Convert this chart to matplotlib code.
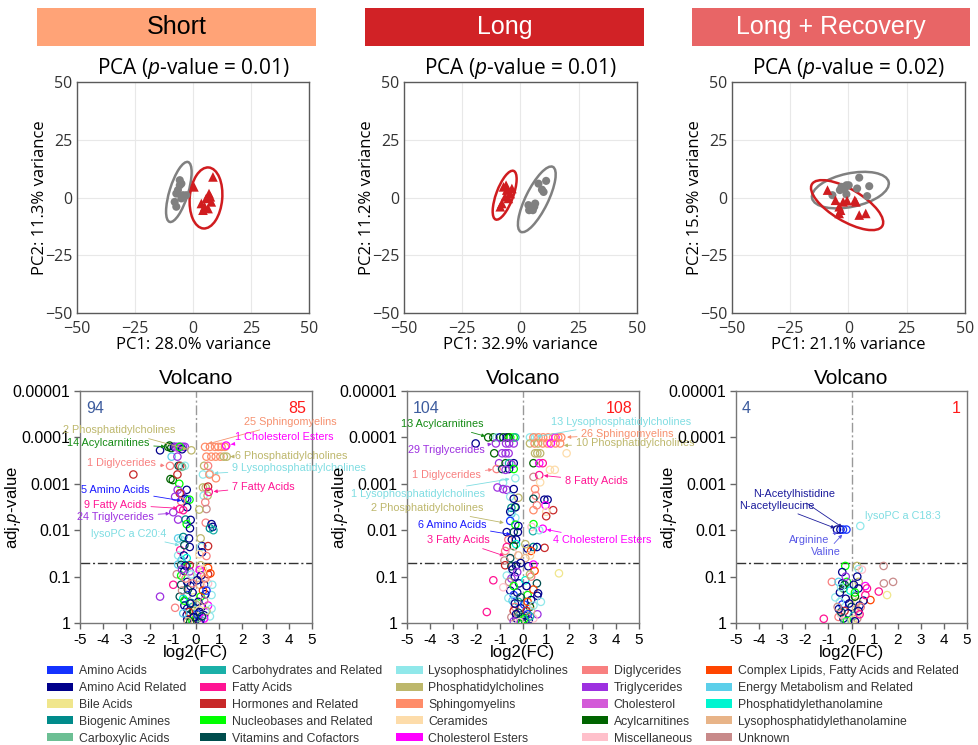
import matplotlib
matplotlib.use("Agg")
import matplotlib.pyplot as plt
from matplotlib.patches import Ellipse, Rectangle, Patch
from matplotlib.ticker import NullLocator
from matplotlib import font_manager

# ---------------------------------------------------------------- data
CONDITIONS = ["Short", "Long", "Long + Recovery"]
PCA_PVALUES = ["0.01", "0.01", "0.02"]
PC1_VAR = ["28.0", "32.9", "21.1"]
PC2_VAR = ["11.3", "11.2", "15.9"]

# PCA scores: control (grey circles) and exposed (red triangles)
SHORT_CTRL_PC1 = [-5.7, -5.0, -6.5, -7.2, -4.3, -2.9, -7.9, -7.2, -5.0, -5.7]
SHORT_CTRL_PC2 = [7.5, 6.0, 3.2, 1.7, 1.0, 1.0, -1.9, -4.0, -0.4, 5.3]
SHORT_EXP_PC1 = [0.4, 8.6, 6.9, 7.5, 5.7, 3.6, 5.0, 6.5, 7.9, 4.3]
SHORT_EXP_PC2 = [4.6, 8.9, 1.7, 0.3, -0.4, -2.6, -4.0, -4.8, -1.9, -5.5]

LONG_CTRL_PC1 = [11.0, 7.7, 9.9, 9.2, 3.4, 4.2, 5.9, 5.3, 6.3, 3.7]
LONG_CTRL_PC2 = [7.2, 6.0, 2.4, 3.4, -3.3, -4.0, -4.0, -5.5, -2.6, -5.5]
LONG_EXP_PC1 = [-7.3, -5.9, -4.4, -3.7, -6.6, -8.0, -8.7, -5.2, -6.2]
LONG_EXP_PC2 = [4.6, 3.2, 1.7, 3.9, 0.3, -2.6, -4.0, -0.4, 5.3]

REC_CTRL_PC1 = [4.6, -3.0, -0.9, 0.1, 3.7, 8.9, 8.0, -6.9, -1.6, -0.9, -3.7]
REC_CTRL_PC2 = [8.6, 4.6, 5.3, 5.3, 3.9, 4.9, 0.6, 1.0, 3.9, 1.4, 3.2]
REC_EXP_PC1 = [-9.0, -5.6, -2.3, -0.6, 2.7, 3.2, -3.4, -4.0, 4.6, 7.4, -4.0]
REC_EXP_PC2 = [3.2, -1.2, -1.9, -1.4, -1.2, -1.9, -5.5, -6.9, -7.6, -6.9, -4.0]

# 95% group ellipses: (centre PC1, centre PC2, width, height, angle)
SHORT_ELLIPSES = [(-6.1, 2.4, 27.1, 8.0, 73), (5.6, -0.2, 26.5, 14.0, 85)]
LONG_ELLIPSES = [(7.0, -0.8, 31.3, 9.6, 64), (-6.8, 1.0, 22.4, 7.3, 70)]
REC_ELLIPSES = [(0.8, 3.2, 33.6, 14.5, 12), (-0.6, -3.3, 35.2, 13.8, -31)]

CLASS_KEYS = ["AA", "AAR", "BA", "BAm", "CA", "CH", "FA", "HR", "NB", "VC",
              "LPC", "PC", "SM", "CER", "CE", "DG", "TG", "CHOL", "AC", "MISC",
              "CL", "EM", "PE", "LPE", "UNK"]
CLASS_NAMES = ["Amino Acids", "Amino Acid Related", "Bile Acids", "Biogenic Amines",
               "Carboxylic Acids", "Carbohydrates and Related", "Fatty Acids",
               "Hormones and Related", "Nucleobases and Related", "Vitamins and Cofactors",
               "Lysophosphatidylcholines", "Phosphatidylcholines", "Sphingomyelins",
               "Ceramides", "Cholesterol Esters", "Diglycerides", "Triglycerides",
               "Cholesterol", "Acylcarnitines", "Miscellaneous",
               "Complex Lipids, Fatty Acids and Related", "Energy Metabolism and Related",
               "Phosphatidylethanolamine", "Lysophosphatidylethanolamine", "Unknown"]

# volcano points: (class, log2 fold change, adjusted p-value)
SHORT_VOLCANO = [
    ("AAR", -1.55, 1.9e-4), ("AC", -1.20, 1.6e-4), ("AC", -1.07, 1.7e-4), ("AC", -1.14, 1.5e-4),
    ("AAR", -0.95, 1.6e-4), ("TG", -0.88, 1.6e-4), ("TG", -0.80, 1.6e-4), ("TG", -0.72, 1.6e-4),
    ("TG", -0.64, 1.6e-4), ("TG", -0.56, 1.6e-4), ("TG", -0.48, 1.6e-4), ("CHOL", -0.76, 1.7e-4),
    ("AAR", -0.60, 1.8e-4), ("NB", -0.70, 1.6e-4), ("PC", -0.20, 1.9e-4),
    ("EM", -1.05, 2.6e-4), ("TG", -0.80, 2.6e-4),
    ("DG", -1.12, 4.1e-4), ("VC", -0.75, 4.1e-4), ("HR", -0.68, 4.1e-4), ("LPC", -0.48, 4.1e-4),
    ("CA", -0.60, 4.3e-4), ("HR", -2.70, 6.3e-4), ("AC", -1.10, 7.9e-4), ("AC", -1.00, 8.3e-4),
    ("HR", -0.80, 6.3e-4), ("NB", -0.72, 1.0e-3), ("AAR", -0.40, 1.35e-3), ("TG", -0.79, 1.35e-3),
    ("TG", -0.64, 1.6e-3), ("HR", -0.70, 1.6e-3), ("AAR", -0.46, 2.1e-3), ("AA", -0.38, 2.2e-3),
    ("NB", -0.28, 2.2e-3), ("DG", -0.64, 2.4e-3), ("TG", -0.90, 1.9e-3), ("AAR", -0.38, 3.2e-3),
    ("FA", -0.70, 3.5e-3), ("TG", -0.98, 4.1e-3), ("FA", -0.55, 3.7e-3), ("TG", -0.77, 5.9e-3),
    ("BAm", -0.45, 5.9e-3), ("AAR", -0.23, 6.0e-3), ("NB", -0.40, 7.4e-3), ("AAR", -0.26, 9.1e-3),
    ("EM", -0.77, 0.015), ("LPC", -0.65, 0.016), ("BAm", -0.55, 0.014), ("AAR", -0.30, 0.015),
    ("FA", -0.68, 0.027), ("AAR", -0.27, 0.023), ("VC", -0.50, 0.021), ("LPC", -0.77, 0.035),
    ("AAR", -0.52, 0.035), ("EM", -0.62, 0.044), ("PE", -0.40, 0.040),
    ("SM", 0.39, 1.6e-4), ("SM", 0.60, 1.6e-4), ("SM", 0.82, 1.6e-4), ("SM", 0.96, 1.6e-4),
    ("SM", 1.10, 1.6e-4), ("SM", 1.25, 1.6e-4), ("CE", 1.30, 1.5e-4),
    ("SM", 0.45, 2.6e-4), ("SM", 0.66, 2.6e-4), ("SM", 0.85, 2.6e-4), ("SM", 1.05, 2.6e-4),
    ("PC", 1.20, 2.6e-4), ("PC", 1.32, 2.6e-4), ("PC", 0.35, 4.1e-4), ("LPC", 0.30, 6.3e-4),
    ("LPC", 0.60, 6.0e-4), ("DG", 0.52, 4.1e-4), ("SM", 0.58, 6.3e-4), ("SM", 0.86, 7.6e-4),
    ("PC", 0.30, 1.2e-3), ("PC", 0.42, 1.2e-3), ("HR", 0.52, 1.15e-3), ("LPC", 0.33, 1.8e-3),
    ("PC", 0.50, 1.8e-3), ("FA", 0.55, 1.5e-3), ("DG", 0.40, 2.5e-3), ("UNK", 0.45, 3.5e-3),
    ("PC", 0.14, 3.6e-3), ("DG", 0.42, 6.9e-3), ("AAR", 0.67, 7.4e-3), ("AAR", 0.72, 8.5e-3),
    ("BAm", 0.60, 9.1e-3), ("CH", 0.75, 0.010), ("PC", 0.20, 0.015), ("AAR", 0.26, 0.022),
    ("LPC", 0.22, 0.023), ("HR", 0.52, 0.022), ("AAR", 0.26, 0.030), ("CER", 0.14, 0.033),
    ("DG", 0.45, 0.036),
    ("EM", -0.77, 0.055), ("VC", -0.64, 0.056), ("NB", -0.40, 0.060), ("HR", -0.27, 0.057),
    ("PC", 0.20, 0.057), ("CL", 0.52, 0.065), ("UNK", -0.83, 0.089), ("NB", -0.64, 0.095),
    ("AAR", -0.50, 0.076), ("TG", -0.27, 0.077), ("LPE", 0.05, 0.09), ("CE", 0.16, 0.072),
    ("AAR", 0.22, 0.095), ("HR", 0.52, 0.089), ("CL", 0.62, 0.085), ("FA", -0.98, 0.15),
    ("VC", -0.64, 0.15), ("AAR", -0.38, 0.13), ("AAR", -0.24, 0.16), ("LPE", 0.16, 0.15),
    ("AAR", 0.36, 0.15), ("MISC", 0.52, 0.14), ("LPC", 0.70, 0.15), ("TG", -1.55, 0.27),
    ("VC", -0.70, 0.27), ("AA", -0.38, 0.25), ("BA", -0.10, 0.28), ("NB", 0.20, 0.27),
    ("LPC", 0.67, 0.25), ("AAR", 0.40, 0.24), ("PE", -0.55, 0.30), ("DG", -0.90, 0.47),
    ("AAR", -0.50, 0.42), ("AAR", -0.38, 0.49), ("CH", -0.15, 0.45), ("AAR", 0.25, 0.45),
    ("CE", 0.52, 0.42), ("LPC", 0.67, 0.49), ("AAR", -0.40, 0.68), ("VC", -0.25, 0.65),
    ("EM", 0.14, 0.68), ("AAR", 0.35, 0.68), ("LPC", 0.60, 0.72), ("BA", -0.05, 0.60),
    ("AAR", -0.38, 0.85), ("NB", -0.15, 0.90), ("HR", 0.05, 0.82), ("AA", 0.20, 0.88),
    ("MISC", 0.30, 0.95), ("VC", -0.05, 0.95), ("CA", 0.10, 0.78), ("UNK", -0.60, 0.20),
    ("AAR", 0.10, 0.35), ("BAm", -0.20, 0.37), ("CL", 0.30, 0.20), ("AC", -0.10, 0.55),
    ("PC", 0.00, 0.40), ("CER", 0.15, 0.52), ("DG", -0.45, 0.11), ("SM", 0.40, 0.11),
    ("AAR", -0.15, 0.22), ("AA", 0.05, 0.65), ("UNK", 0.35, 0.33),
    ("AAR", -0.45, 0.058), ("TG", -0.60, 0.070), ("LPC", -0.20, 0.090), ("CER", 0.30, 0.070),
    ("AAR", 0.05, 0.12), ("VC", -0.35, 0.19), ("DG", -0.15, 0.14), ("AA", 0.45, 0.20),
    ("NB", -0.50, 0.33), ("AAR", -0.25, 0.38), ("PC", 0.45, 0.55), ("HR", -0.30, 0.58),
    ("AAR", 0.15, 0.58), ("EM", -0.55, 0.62), ("AAR", -0.10, 0.75), ("CE", 0.35, 0.80),
    ("AC", -0.25, 0.95), ("AAR", 0.15, 0.97), ("LPE", -0.35, 0.92), ("VC", 0.25, 0.72),
]

LONG_VOLCANO = [
    ("AAR", -2.04, 1.35e-4), ("AC", -1.50, 1.0e-4), ("AC", -1.28, 1.0e-4), ("LPC", -1.14, 1.0e-4),
    ("AAR", -1.00, 1.0e-4), ("AC", -0.85, 1.0e-4), ("AAR", -0.70, 1.0e-4), ("NB", -0.55, 1.0e-4),
    ("NB", -0.40, 1.0e-4), ("CH", -0.33, 1.0e-4), ("AC", -0.62, 1.0e-4), ("TG", -1.17, 1.35e-4),
    ("TG", -0.73, 1.35e-4), ("TG", -0.60, 1.35e-4), ("TG", -0.40, 1.35e-4), ("AC", -1.24, 2.2e-4),
    ("TG", -0.90, 2.2e-4), ("TG", -0.75, 2.2e-4), ("TG", -0.62, 2.2e-4), ("TG", -1.03, 3.6e-4),
    ("AC", -0.75, 3.6e-4), ("CH", -0.60, 3.6e-4), ("AAR", -0.40, 3.6e-4), ("TG", -0.50, 3.8e-4),
    ("DG", -1.14, 4.8e-4), ("VC", -0.90, 4.8e-4), ("AAR", -0.60, 4.8e-4), ("NB", -0.40, 4.8e-4),
    ("TG", -0.75, 5.0e-4), ("LPC", -0.33, 7.6e-4), ("LPC", -0.86, 9.5e-4), ("TG", -1.10, 1.2e-3),
    ("TG", -0.86, 1.3e-3), ("TG", -0.70, 1.35e-3), ("AAR", -0.40, 1.3e-3), ("LPC", -0.55, 1.9e-3),
    ("PC", -0.20, 2.0e-3), ("AAR", -0.40, 2.1e-3), ("NB", -0.35, 3.2e-3), ("BAm", -0.50, 3.3e-3),
    ("AAR", -0.32, 3.2e-3), ("EM", -0.50, 4.4e-3), ("AAR", -0.55, 4.0e-3), ("LPC", -0.33, 5.4e-3),
    ("AA", -0.55, 6.3e-3), ("NB", -0.33, 7.6e-3), ("AAR", -0.20, 8.1e-3), ("AAR", -0.70, 0.011),
    ("VC", -0.40, 0.011), ("AAR", -0.22, 0.011), ("DG", -0.63, 0.016), ("AAR", -0.48, 0.016),
    ("AAR", -0.30, 0.016), ("PE", -0.30, 0.020), ("FA", -0.70, 0.023), ("AC", -0.40, 0.022),
    ("DG", -0.77, 0.028), ("MISC", -0.45, 0.030), ("VC", -0.55, 0.040), ("LPE", -0.20, 0.035),
    ("UNK", -0.80, 0.045),
    ("LPC", 0.30, 1.0e-4), ("LPC", 0.52, 1.0e-4), ("SM", 0.67, 1.0e-4), ("SM", 0.87, 1.0e-4),
    ("SM", 1.08, 1.0e-4), ("SM", 1.30, 1.0e-4), ("SM", 1.52, 1.0e-4), ("CE", 1.40, 1.0e-4),
    ("SM", 0.45, 1.0e-4), ("SM", 1.65, 1.0e-4), ("PC", 0.30, 1.35e-4), ("SM", 0.50, 1.35e-4),
    ("PC", 0.65, 1.35e-4), ("SM", 0.85, 1.35e-4), ("SM", 1.05, 1.35e-4), ("CE", 1.20, 1.35e-4),
    ("SM", 1.40, 1.35e-4), ("SM", 1.60, 1.35e-4), ("CER", 1.88, 2.2e-4), ("PC", 0.52, 2.2e-4),
    ("PC", 0.74, 2.2e-4), ("PC", 0.62, 2.2e-4), ("AC", 0.45, 3.6e-4), ("CE", 0.70, 3.6e-4),
    ("FA", 0.85, 3.6e-4), ("CER", 1.16, 5.0e-4), ("CER", 1.37, 5.0e-4), ("UNK", 0.45, 7.1e-4),
    ("FA", 0.70, 6.5e-4), ("CER", 0.74, 9.3e-4), ("SM", 0.52, 1.3e-3), ("DG", 0.55, 1.8e-3),
    ("VC", 0.45, 2.1e-3), ("AAR", 0.92, 2.2e-3), ("AAR", 1.06, 2.2e-3), ("CE", 0.97, 2.9e-3),
    ("DG", 0.60, 2.9e-3), ("HR", 1.30, 3.7e-3), ("CER", 1.00, 4.0e-3), ("SM", 0.45, 3.7e-3),
    ("CE", 0.85, 9.3e-3), ("NB", 0.45, 7.4e-3), ("MISC", 0.37, 8.5e-3), ("CH", 0.43, 0.0105),
    ("LPC", 0.70, 0.010), ("HR", 1.00, 0.005), ("HR", 0.93, 0.024), ("BAm", 0.45, 0.023),
    ("AAR", 0.60, 0.023), ("AAR", 0.20, 0.025), ("PC", 0.10, 0.020), ("CL", 0.35, 0.028),
    ("CER", 0.30, 0.035), ("LPE", 0.10, 0.040),
    ("BA", 1.55, 0.085), ("FA", -1.28, 0.12), ("FA", -1.56, 0.58), ("HR", -0.77, 0.057),
    ("VC", -0.50, 0.060), ("AAR", -0.30, 0.058), ("AAR", -0.10, 0.051), ("AAR", 0.23, 0.060),
    ("CE", 0.45, 0.055), ("CL", 0.50, 0.075), ("LPC", -0.70, 0.095), ("TG", -0.50, 0.11),
    ("AAR", -0.35, 0.10), ("AAR", -0.17, 0.14), ("UNK", -0.60, 0.13), ("VC", 0.60, 0.14),
    ("PE", 0.10, 0.12), ("AAR", -0.55, 0.20), ("AA", -0.40, 0.25), ("AAR", -0.25, 0.22),
    ("NB", 0.20, 0.25), ("CL", 0.45, 0.19), ("AAR", 0.65, 0.23), ("MISC", -0.85, 0.17),
    ("LPC", -0.63, 0.29), ("EM", -0.45, 0.33), ("CH", -0.20, 0.35), ("AAR", 0.35, 0.32),
    ("AAR", 0.62, 0.26), ("LPC", 0.77, 0.35), ("DG", -0.35, 0.45), ("AAR", -0.10, 0.48),
    ("AC", 0.30, 0.45), ("TG", 0.62, 0.65), ("HR", -0.40, 0.55), ("VC", -0.20, 0.60),
    ("AAR", 0.10, 0.70), ("LPE", 0.35, 0.55), ("AAR", -0.28, 0.80), ("NB", -0.05, 0.90),
    ("BA", 0.15, 0.75), ("AAR", 0.25, 0.85), ("CA", -0.15, 0.70), ("MISC", 0.45, 0.80),
    ("UNK", -0.50, 0.75), ("AA", 0.05, 0.40), ("DG", 0.35, 0.10),
    ("AAR", -0.45, 0.070), ("TG", -0.25, 0.080), ("PC", 0.30, 0.090), ("AAR", 0.15, 0.16),
    ("NB", -0.40, 0.16), ("VC", -0.10, 0.28), ("CL", 0.20, 0.35), ("AAR", -0.35, 0.38),
    ("LPC", 0.45, 0.42), ("HR", 0.15, 0.55), ("AAR", -0.30, 0.65), ("AA", 0.20, 0.65),
    ("VC", -0.05, 0.75), ("AAR", 0.10, 0.95), ("NB", 0.05, 0.82), ("TG", -0.40, 0.92),
    ("CH", 0.30, 0.72), ("MISC", -0.15, 0.95),
]

REC_VOLCANO = [
    ("AAR", -0.63, 0.0097), ("AAR", -0.48, 0.0097), ("AA", -0.37, 0.0097), ("AA", -0.22, 0.0097),
    ("LPC", 0.38, 0.0081),
    ("NB", -0.27, 0.059), ("PC", 0.24, 0.059), ("LPC", 0.31, 0.069), ("MISC", 0.45, 0.071),
    ("UNK", 1.39, 0.059), ("DG", -0.85, 0.13), ("EM", -0.56, 0.13), ("NB", -0.20, 0.13),
    ("UNK", 1.40, 0.14), ("UNK", 1.80, 0.13), ("PC", 0.31, 0.13), ("AAR", -0.40, 0.14),
    ("VC", -0.30, 0.15), ("CE", 0.60, 0.16), ("LPC", -0.70, 0.28), ("FA", 0.67, 0.18),
    ("FA", 1.18, 0.21), ("BA", 1.54, 0.25), ("CL", 0.82, 0.32), ("AAR", 0.52, 0.33),
    ("FA", 0.60, 0.25), ("AAR", 0.30, 0.18), ("AC", -0.35, 0.18), ("AAR", -0.50, 0.22),
    ("FA", -1.20, 0.81), ("DG", -0.56, 0.74), ("PC", 0.25, 0.35), ("CER", 0.05, 0.30),
    ("AAR", -0.25, 0.30), ("AA", -0.40, 0.40), ("VC", 0.00, 0.45), ("LPE", 0.20, 0.50),
    ("HR", -0.30, 0.55), ("AAR", -0.15, 0.62), ("CH", 0.10, 0.70), ("AAR", -0.35, 0.80),
    ("UNK", 0.25, 0.80), ("NB", -0.20, 0.90), ("BA", 0.05, 0.85), ("MISC", -0.45, 0.65),
    ("AAR", 0.35, 0.42), ("LPC", -0.50, 0.35), ("AC", 0.15, 0.27), ("PE", -0.05, 0.20),
    ("AAR", 0.10, 0.15), ("CER", 0.30, 0.60), ("AAR", -0.55, 0.50),
    ("AAR", -0.40, 0.080), ("TG", -0.25, 0.10), ("AAR", 0.25, 0.10), ("LPC", -0.45, 0.17),
    ("NB", 0.15, 0.22), ("AAR", -0.10, 0.38), ("DG", 0.40, 0.45), ("AAR", 0.30, 0.55),
    ("VC", -0.45, 0.58), ("UNK", -0.60, 0.45), ("AAR", 0.15, 0.92), ("CA", -0.30, 0.97),
    ("FA", 0.35, 0.65),
]

# significant metabolites (down, up)
SIG_COUNTS = [(94, 85), (104, 108), (4, 1)]
P_CUTOFF = 0.05

# labelled groups: (label, class, target log2FC, target adj. p)
SHORT_NOTES = [
    ("25 Sphingomyelins", "SM", 0.35, 1.45e-4),
    ("1 Cholesterol Esters", "CE", 1.33, 1.45e-4),
    ("6 Phosphatidylcholines", "PC", 1.30, 2.6e-4),
    ("9 Lysophosphatidylcholines", "LPC", 0.60, 6.0e-4),
    ("7 Fatty Acids", "FA", 0.58, 1.5e-3),
    ("2 Phosphatidylcholines", "PC", -0.20, 1.9e-4),
    ("14 Acylcarnitines", "AC", -1.15, 1.6e-4),
    ("1 Diglycerides", "DG", -1.17, 4.1e-4),
    ("5 Amino Acids", "AA", -0.45, 2.4e-3),
    ("9 Fatty Acids", "FA", -0.62, 3.4e-3),
    ("24 Triglycerides", "TG", -0.95, 4.3e-3),
    ("lysoPC a C20:4", "LPC", -0.55, 0.022),
]
LONG_NOTES = [
    ("13 Acylcarnitines", "AC", -1.45, 1.0e-4),
    ("29 Triglycerides", "TG", -1.17, 1.35e-4),
    ("1 Diglycerides", "DG", -1.14, 4.8e-4),
    ("1 Lysophosphatidylcholines", "LPC", -0.40, 7.6e-4),
    ("2 Phosphatidylcholines", "PC", -0.65, 7.2e-3),
    ("6 Amino Acids", "AA", -0.36, 0.0128),
    ("3 Fatty Acids", "FA", -0.65, 0.038),
    ("13 Lysophosphatidylcholines", "LPC", 0.43, 1.0e-4),
    ("26 Sphingomyelins", "SM", 1.72, 1.0e-4),
    ("10 Phosphatidylcholines", "PC", 1.58, 1.5e-4),
    ("8 Fatty Acids", "FA", 0.72, 6.5e-4),
    ("4 Cholesterol Esters", "CE", 0.85, 9.3e-3),
]
REC_NOTES = [
    ("N-Acetylhistidine", "AAR", -0.25, 0.0097),
    ("N-acetylleucine", "AAR", -0.55, 0.0097),
    ("Arginine", "AA", -0.42, 0.0105),
    ("Valine", "AA", -0.28, 0.0107),
    ("lysoPC a C18:3", "LPC", None, None),
]

# ---------------------------------------------------------------- style
W, H, DPI = 979, 745, 100
PALETTE = {
    "AA": "#1432ff", "AAR": "#00008b", "BA": "#f0e68c", "BAm": "#008b8b", "CA": "#6cbf94",
    "CH": "#1ab0a8", "FA": "#ff1493", "HR": "#c82828", "NB": "#00ff00", "VC": "#004d4d",
    "LPC": "#90e8ea", "PC": "#bdb76b", "SM": "#ff8c69", "CER": "#fddcaa", "CE": "#ff00ff",
    "DG": "#f88080", "TG": "#9d30e0", "CHOL": "#d35ad8", "AC": "#006400", "MISC": "#ffc0cb",
    "CL": "#ff4500", "EM": "#5ccfea", "PE": "#00f5d0", "LPE": "#e8b488", "UNK": "#c88a8a",
}
NOTE_TEXT_COLOR = {"AC": "#138a13", "LPC": "#7fdde2", "SM": "#f7906e", "AA": "#1a1aff"}
HEADER_COLORS = ["#ffa377", "#d12226", "#e86566"]
HEADER_TEXT = ["black", "white", "white"]
GREY, RED = "#808080", "#d01c1f"

# text anchor positions for the labels: (log2FC, adj. p, alignment)
SHORT_NOTE_POS = [
    (2.05, 4.6e-5, "left"), (1.69, 1.0e-4, "left"), (1.69, 2.5e-4, "left"),
    (1.55, 4.6e-4, "left"), (1.55, 1.15e-3, "left"), (-0.9, 7.1e-5, "right"),
    (-2.0, 1.35e-4, "right"), (-1.72, 3.5e-4, "right"), (-2.0, 1.35e-3, "right"),
    (-2.12, 2.8e-3, "right"), (-1.81, 5.2e-3, "right"), (-1.26, 0.012, "right"),
]
LONG_NOTE_POS = [
    (-1.7, 5.2e-5, "right"), (-1.65, 1.9e-4, "right"), (-1.8, 6.5e-4, "right"),
    (-1.65, 1.66e-3, "right"), (-1.7, 3.4e-3, "right"), (-1.58, 7.6e-3, "right"),
    (-1.44, 0.0166, "right"), (1.22, 4.6e-5, "left"), (2.51, 8.5e-5, "left"),
    (2.27, 1.35e-4, "left"), (1.8, 8.7e-4, "left"), (1.29, 0.0166, "left"),
]
REC_NOTE_POS = [
    (-2.5, 1.7e-3, "center"), (-3.25, 2.95e-3, "center"), (-1.85, 0.0166, "center"),
    (-1.1, 0.030, "center"), (0.57, 5.0e-3, "left"),
]
REC_NOTE_COLORS = ["#1c1c9c", "#1c1c9c", "#5a5ae6", "#5a5ae6", "#7fdde2"]

names = {f.name for f in font_manager.fontManager.ttflist}
NARROW = "Liberation Sans Narrow" if "Liberation Sans Narrow" in names else "Liberation Sans"
HEADER_SIZE = 21 if NARROW == "Liberation Sans Narrow" else 18
PCA_FONT = ["Open Sans", "DejaVu Sans"]

plt.rcParams["font.family"] = ["Liberation Sans", "DejaVu Sans"]
plt.rcParams["mathtext.fontset"] = "custom"
plt.rcParams["mathtext.it"] = "Open Sans:italic"
plt.rcParams["mathtext.rm"] = "Open Sans"

fig = plt.figure(figsize=(W / DPI, H / DPI), dpi=DPI)


def px_rect(left, top, right, bottom):
    return [left / W, 1 - bottom / H, (right - left) / W, (bottom - top) / H]


# condition headers
for (l, r), name, fc, tc in zip([(37, 316), (365, 644), (692, 970)], CONDITIONS,
                                HEADER_COLORS, HEADER_TEXT):
    fig.add_artist(Rectangle((l / W, 1 - 46 / H), (r - l) / W, 38 / H,
                             transform=fig.transFigure, facecolor=fc, edgecolor="none"))
    fig.text((l + r) / 2 / W, 1 - 27 / H, name, ha="center", va="center",
             fontsize=HEADER_SIZE, color=tc, family=NARROW)


def pca_panel(ax, cx, cy, ex, ey, ellipses, pval, v1, v2):
    ax.scatter(cx, cy, marker="o", s=34, color=GREY, edgecolors="none", zorder=3)
    ax.scatter(ex, ey, marker="^", s=48, color=RED, edgecolors="none", zorder=3)
    for (x0, y0, w, h, ang), col in zip(ellipses, [GREY, RED]):
        ax.add_patch(Ellipse((x0, y0), w, h, angle=ang, fill=False, edgecolor=col,
                             lw=1.8, zorder=2))
    ax.set_xlim(-50, 50)
    ax.set_ylim(-50, 50)
    ticks = [-50, -25, 0, 25, 50]
    labels = [("\u2212" + str(-t)) if t < 0 else str(t) for t in ticks]
    ax.set_xticks(ticks)
    ax.set_xticklabels(labels, family=PCA_FONT, fontsize=11.5)
    ax.set_yticks(ticks)
    ax.set_yticklabels(labels, family=PCA_FONT, fontsize=11.5)
    ax.tick_params(length=0, colors="#333333")
    ax.tick_params(axis="x", pad=6)
    ax.tick_params(axis="y", pad=3.5)
    ax.grid(True, color="#e8e8e8", lw=0.8)
    ax.set_axisbelow(True)
    for s in ax.spines.values():
        s.set_color("#5a5a5a")
        s.set_linewidth(1.0)
    ax.set_title(f"PCA ($p$-value = {pval})", family=PCA_FONT, fontsize=15, pad=6)
    ax.set_xlabel(f"PC1: {v1}% variance", family=PCA_FONT, fontsize=12)
    ax.set_ylabel(f"PC2: {v2}% variance", family=PCA_FONT, fontsize=12)
    ax.xaxis.set_label_coords(0.5, -0.105)
    ax.yaxis.set_label_coords(-0.125, 0.5)


def volcano_panel(ax, pts, counts, notes, note_pos, note_colors=None):
    fcs = [p[1] for p in pts]
    pvs = [p[2] for p in pts]
    cols = [PALETTE[p[0]] for p in pts]
    ax.scatter(fcs, pvs, s=28, facecolors="none", edgecolors=cols, linewidths=0.9, zorder=3)
    ax.set_yscale("log")
    ax.set_xlim(-5, 5)
    ax.set_ylim(1, 1e-5)
    ax.axhline(P_CUTOFF, color="#333333", lw=1.0, ls=(0, (7, 2, 1.5, 2)), zorder=2)
    ax.axvline(0, color="#999999", lw=1.0, ls=(0, (7, 2, 1.5, 2)), zorder=2)
    ax.set_xticks(range(-5, 6))
    ax.set_xticklabels([str(i) for i in range(-5, 6)], fontsize=11)
    yt = [1, 0.1, 0.01, 0.001, 0.0001, 0.00001]
    ax.set_yticks(yt)
    ax.set_yticklabels(["1", "0.1", "0.01", "0.001", "0.0001", "0.00001"], fontsize=11.5)
    ax.yaxis.set_minor_locator(NullLocator())
    ax.tick_params(direction="out", length=4, width=1, color="#666666", pad=3)
    for s in ax.spines.values():
        s.set_color("#777777")
        s.set_linewidth(1.0)
    ax.set_title("Volcano", fontsize=15, pad=5)
    ax.set_xlabel("log2(FC)", fontsize=12)
    ax.set_ylabel("adj.$p$-value", fontsize=12)
    ax.xaxis.set_label_coords(0.5, -0.095)
    ax.yaxis.set_label_coords(-0.245, 0.5)
    ax.text(0.026, 0.925, str(counts[0]), transform=ax.transAxes, color="#3d5c9e",
            fontsize=11.5, ha="left", va="center")
    ax.text(0.974, 0.925, str(counts[1]), transform=ax.transAxes, color="#ff1a1a",
            fontsize=11.5, ha="right", va="center")
    for i, ((label, cls, tx, ty), (x, y, ha)) in enumerate(zip(notes, note_pos)):
        col = note_colors[i] if note_colors else NOTE_TEXT_COLOR.get(cls, PALETTE[cls])
        if tx is None:
            ax.text(x, y, label, color=col, fontsize=7.8, ha=ha, va="center", zorder=5)
            continue
        ax.annotate(label, xy=(tx, ty), xytext=(x, y), color=col, fontsize=7.8,
                    ha=ha, va="center", annotation_clip=False, zorder=5,
                    arrowprops=dict(arrowstyle="-|>", color=col, lw=0.6,
                                    mutation_scale=5, shrinkA=1, shrinkB=3))


pca_axes = [fig.add_axes(px_rect(77, 82, 309, 313)),
            fig.add_axes(px_rect(404, 82, 637, 313)),
            fig.add_axes(px_rect(732, 82, 965, 313))]
pca_data = [
    (SHORT_CTRL_PC1, SHORT_CTRL_PC2, SHORT_EXP_PC1, SHORT_EXP_PC2, SHORT_ELLIPSES),
    (LONG_CTRL_PC1, LONG_CTRL_PC2, LONG_EXP_PC1, LONG_EXP_PC2, LONG_ELLIPSES),
    (REC_CTRL_PC1, REC_CTRL_PC2, REC_EXP_PC1, REC_EXP_PC2, REC_ELLIPSES),
]
for ax, d, pv, v1, v2 in zip(pca_axes, pca_data, PCA_PVALUES, PC1_VAR, PC2_VAR):
    pca_panel(ax, *d, pv, v1, v2)

vol_axes = [fig.add_axes(px_rect(80, 391, 312, 623)),
            fig.add_axes(px_rect(407, 391, 639, 623)),
            fig.add_axes(px_rect(736, 391, 967, 623))]
volcano_panel(vol_axes[0], SHORT_VOLCANO, SIG_COUNTS[0], SHORT_NOTES, SHORT_NOTE_POS)
volcano_panel(vol_axes[1], LONG_VOLCANO, SIG_COUNTS[1], LONG_NOTES, LONG_NOTE_POS)
volcano_panel(vol_axes[2], REC_VOLCANO, SIG_COUNTS[2], REC_NOTES, REC_NOTE_POS,
              REC_NOTE_COLORS)

# class legend
handles = [Patch(facecolor=PALETTE[k], edgecolor="none") for k in CLASS_KEYS]
fig.legend(handles, CLASS_NAMES, ncol=5, loc="upper left",
           bbox_to_anchor=(47 / W, 1 - 665 / H), frameon=False, fontsize=8.8,
           handlelength=2.15, handleheight=0.65, handletextpad=0.45,
           columnspacing=1.15, labelspacing=0.4, borderpad=0, borderaxespad=0,
           labelcolor="#333333")

fig.savefig("out.png", dpi=DPI)
